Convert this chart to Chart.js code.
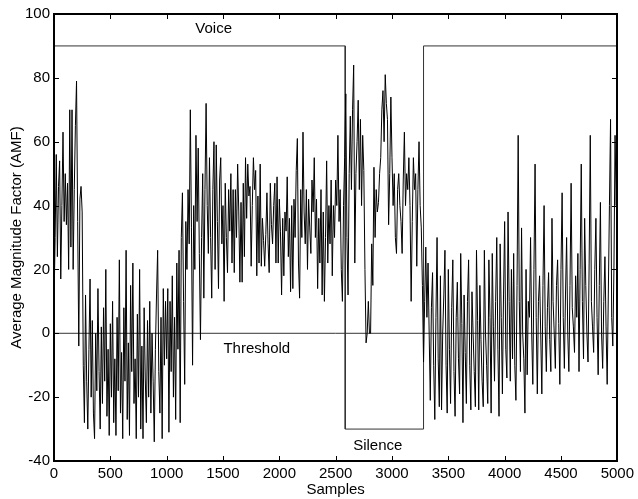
<!DOCTYPE html>
<html><head><meta charset="utf-8">
<script src="https://cdn.jsdelivr.net/npm/chart.js@4.4.1/dist/chart.umd.min.js"></script>
<style>html,body{margin:0;padding:0;background:#fff}canvas{display:block}</style>
</head><body>
<canvas id="c" width="638" height="499"></canvas>
<script>
// ---- data ----
const SAMPLE_STEP = 10; // one value every 10 samples (0 .. 5000)
const amfValues = [
  9, 30, 56, 24, 46, 54, 17, 40, 63, 35,
  50, 34, 47, 20, 70, 27, 70, 20, 45, 65,
  79, 35, -4, 42, 46, 38, -10, -28, 12, -15,
  -30, -5, 17, -20, 4, -25, -33, 0, -18, 14,
  -12, -30, 2, -22, 8, -15, 20, -26, -5, -32,
  3, -20, 10, -28, -8, -32, 5, -18, 23, -25,
  -6, -33, 8, -15, 26, -27, -3, -32, 15, -12,
  22, -22, -8, -33, 6, -20, 20, -30, -4, -33,
  8, -14, -28, 4, -20, 10, -25, 0, -15, -34,
  -5, 12, 26, -12, -25, 5, -33, 14, -10, 10,
  -8, 14, -31, 10, -12, 18, -20, 5, -27, 22,
  -5, 26, -28, 30, 44, 10, -16, 35, 20, 45,
  28, 70, 33, -10, 40, 20, 62, 35, 58, 25,
  -2, 30, 50, 11, 45, 72, 40, 25, 55, 30,
  11, 45, 60, 20, 59, 35, 14, 48, 55, 28,
  40, 10, 47, 30, 19, 45, 32, 50, 22, 45,
  19, 45, 30, 53, 38, 16, 41, 16, 47, 24,
  55, 36, 53, 43, 46, 21, 40, 55, 45, 51,
  18, 43, 22, 53, 21, 36, 29, 21, 31, 44,
  28, 19, 47, 34, 28, 40, 47, 22, 49, 22,
  42, 32, 12, 36, 18, 38, 32, 49, 24, 36,
  13, 40, 14, 42, 30, 51, 61, 22, 11, 45,
  30, 63, 38, 28, 45, 20, 42, 33, 25, 48,
  38, 55, 30, 42, 14, 36, 22, 45, 12, 38,
  10, 30, 54, 22, 40, 28, 48, 18, 40, 30,
  48, 40, 62, 35, 45, 20, 10, 40, 55, 75,
  30, 12, 50, 68, 45, 70, 84, 22, 50, 60,
  73, 45, 67, 40, 62, 51, 20, -3, 0, 10,
  0, 0, 28, 15, 52, 30, 45, 38, 41, 50,
  55, 70, 76, 60, 81, 72, 67, 34, 50, 74,
  55, 40, 50, 30, 25, 45, 50, 40, 35, 25,
  48, 63, 40, 50, 45, 55, 40, 10, 35, 55,
  45, 50, 21, 45, 60, 40, 33, 15, -9, 10,
  27, 5, 22, 0, -21, 8, 19, -10, -27, 5,
  30, -8, -23, 18, -24, 0, 12, 26, -10, -25,
  20, -5, -22, 8, 23, -12, -26, 5, 16, -8,
  -19, 25, 3, -28, 12, -6, -22, 10, 23, -10,
  -24, 13, 0, -12, -23, 26, 4, -24, 15, -2,
  -15, -23, 26, 0, -10, -22, 23, 5, -25, 25,
  2, -15, 10, 30, -5, -26, 28, 5, -19, 12,
  35, -5, -14, 38, 10, -15, 20, -8, 25, -10,
  -21, 15, 62, 10, -12, 33, 0, -8, -25, 20,
  -13, 10, 5, 30, 0, -16, 20, 53, 5, -19,
  10, 18, 0, -19, 15, 40, 2, -12, 8, 19,
  -2, -12, 36, 10, 0, -11, 15, 23, 3, -16,
  20, 44, 5, -11, 12, 30, 0, -12, 15, 47,
  8, 2, -6, 18, 5, 25, -12, 20, 53, 10,
  -8, 36, 15, 0, -9, 22, 62, 10, 2, -6,
  20, 36, 5, -13, 15, 41, 0, -11, 10, 24,
  2, -16, 12, 40, 67, 5, -4, 20, 62, 40,
  60
];
const vadX = [0, 2585, 2585, 3280, 3280, 5000];
const vadY = [90, 90, -30, -30, 90, 90];
const thresholdX = [0, 5000];
const thresholdY = [0, 0];
const xTicks = [0, 500, 1000, 1500, 2000, 2500, 3000, 3500, 4000, 4500, 5000];
const yTicks = [-40, -20, 0, 20, 40, 60, 80, 100];
const noteText = ['Voice', 'Threshold', 'Silence'];
const noteX = [1417, 1800, 2874];
const noteY = [95.3, -4.9, -35.3];
const xTitle = 'Samples';
const yTitle = 'Average Magnitude Factor (AMF)';

// ---- build ----
const FONT = '"Liberation Sans", Arial, Helvetica, sans-serif';
const FS = 15;
const sigData = amfValues.map((v, i) => ({x: i * SAMPLE_STEP, y: v}));
const vadData = vadX.map((x, i) => ({x, y: vadY[i]}));
const thrData = thresholdX.map((x, i) => ({x, y: thresholdY[i]}));

const framePlugin = {
  id: 'frame',
  afterDraw(chart) {
    const {ctx, chartArea: a, scales: {x, y}} = chart;
    ctx.save();
    ctx.strokeStyle = '#000';
    const L = Math.round(a.left), R = Math.round(a.right);
    const T = Math.round(a.top), B = Math.round(a.bottom);
    ctx.lineWidth = 1;
    const len = 5;
    ctx.beginPath();
    xTicks.forEach(v => {
      const px = Math.round(x.getPixelForValue(v)) + 0.5;
      ctx.moveTo(px, B); ctx.lineTo(px, B - len);
      ctx.moveTo(px, T); ctx.lineTo(px, T + len);
    });
    yTicks.forEach(v => {
      const py = Math.round(y.getPixelForValue(v)) + 0.5;
      ctx.moveTo(L, py); ctx.lineTo(L + len, py);
      ctx.moveTo(R, py); ctx.lineTo(R - len, py);
    });
    ctx.stroke();
    ctx.lineWidth = 2;
    ctx.strokeRect(L, T, R - L, B - T);
    ctx.fillStyle = '#000';
    ctx.font = FS + 'px ' + FONT;
    ctx.textAlign = 'center';
    ctx.textBaseline = 'middle';
    noteText.forEach((t, i) => ctx.fillText(t, x.getPixelForValue(noteX[i]), y.getPixelForValue(noteY[i])));
    ctx.restore();
  }
};

new Chart(document.getElementById('c'), {
  type: 'line',
  data: {
    datasets: [
      {data: sigData, borderColor: '#000', borderWidth: 1, pointRadius: 0, tension: 0, order: 0, fill: false},
      {data: vadData, borderColor: '#333', borderWidth: 1, pointRadius: 0, tension: 0, order: 1, fill: false},
      {data: thrData, borderColor: '#333', borderWidth: 1, pointRadius: 0, tension: 0, order: 2, fill: false}
    ]
  },
  options: {
    responsive: false,
    animation: false,
    devicePixelRatio: 1,
    layout: {padding: {left: 0, right: 16, top: 14, bottom: 0}},
    plugins: {legend: {display: false}, tooltip: {enabled: false}},
    scales: {
      x: {
        type: 'linear', min: 0, max: 5000,
        afterBuildTicks: s => { s.ticks = xTicks.map(v => ({value: v})); },
        ticks: {font: {family: FONT, size: FS}, color: '#000', padding: 4, maxRotation: 0, autoSkip: false,
                callback: v => String(v)},
        grid: {display: false, drawTicks: false},
        border: {display: false},
        title: {display: true, text: xTitle, font: {family: FONT, size: FS}, color: '#000', padding: {top: 0, bottom: 0}},
        afterFit: s => { s.height = 38; }
      },
      y: {
        type: 'linear', min: -40, max: 100,
        afterBuildTicks: s => { s.ticks = yTicks.map(v => ({value: v})); },
        ticks: {font: {family: FONT, size: FS}, color: '#000', padding: 4, callback: v => String(v)},
        grid: {display: false, drawTicks: false},
        border: {display: false},
        title: {display: true, text: yTitle, font: {family: FONT, size: FS}, color: '#000', padding: {top: 8, bottom: 0}},
        afterFit: s => { s.width = 54; }
      }
    }
  },
  plugins: [framePlugin]
});
</script>
</body></html>
